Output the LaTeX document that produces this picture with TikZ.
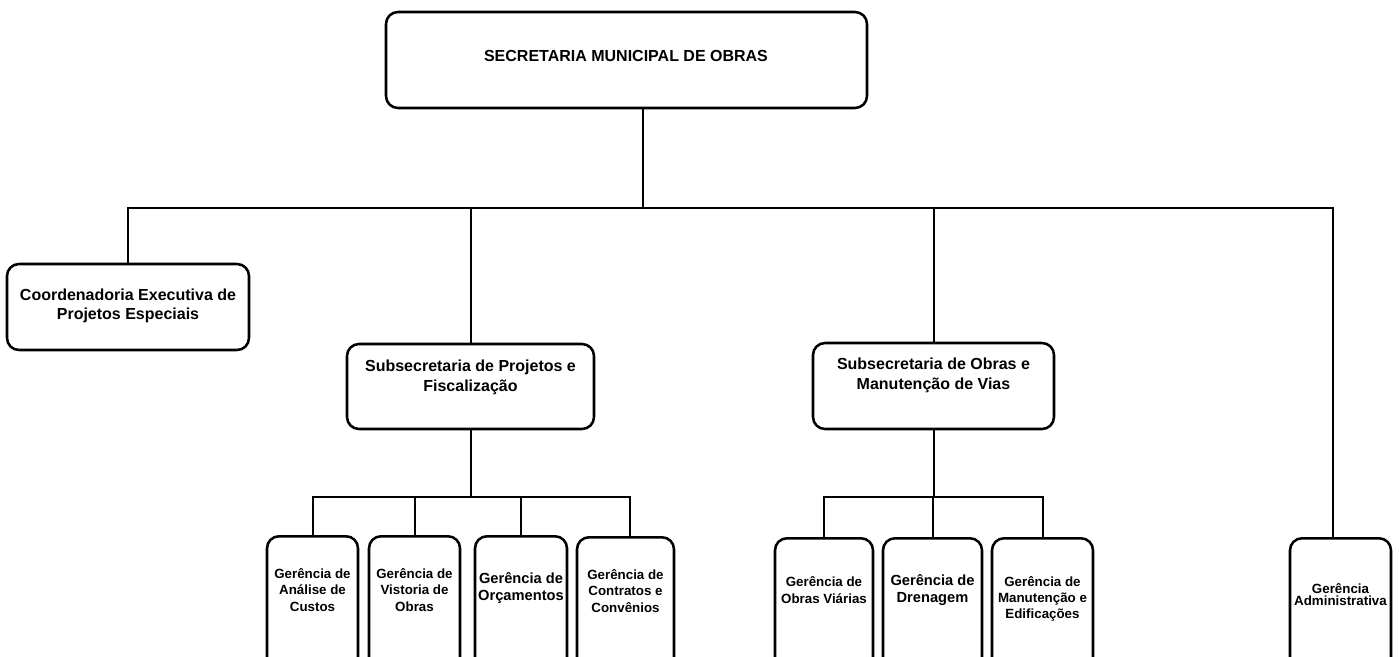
\documentclass[tikz,border=0pt]{standalone}
\usepackage{fontspec}
\setmainfont{Liberation Sans}
\usetikzlibrary{positioning}

\begin{document}
\begin{tikzpicture} [x=0.75pt, y=-0.75pt,
                    caixa/.style={draw, line width=1.9pt, rounded corners=9pt, inner sep=0pt},
                    gcaixa/.style={caixa, anchor=north, minimum height=120pt},
                    rot/.style={align=center, inner sep=0pt, font=\bfseries\fontsize{12}{15}\selectfont},
                    rotp/.style={align=center, inner sep=0pt, font=\bfseries\fontsize{10}{12.2}\selectfont},
                    rotm/.style={align=center, inner sep=0pt, font=\bfseries\fontsize{11}{12.8}\selectfont},
                    liga/.style={line width=1.5pt, line cap=rect}]

\useasboundingbox (0,0) rectangle (1400,657);
\clip (0,0) rectangle (1400,657);

% caixas
\node[caixa, minimum width=360.75pt, minimum height=72pt] (topo) at (626.5,60) {};
\node[caixa, minimum width=181.5pt, minimum height=64.5pt] (coord) at (128,307) {};
\node[caixa, minimum width=185.25pt, minimum height=63.75pt] (sp) at (470.5,386.5) {};
\node[caixa, minimum width=180.75pt, minimum height=64.5pt] (sm) at (933.5,386) {};

\node[gcaixa, minimum width=68.25pt] (g1) at (312.5,535) {};
\node[gcaixa, minimum width=68.25pt] (g2) at (414.5,535) {};
\node[gcaixa, minimum width=69pt] (g3) at (521,535) {};
\node[gcaixa, minimum width=72.75pt] (g4) at (625.5,536) {};
\node[gcaixa, minimum width=73.5pt] (g5) at (824,537) {};
\node[gcaixa, minimum width=74.25pt] (g6) at (932.5,537) {};
\node[gcaixa, minimum width=75.75pt] (g7) at (1042.5,537) {};
\node[gcaixa, minimum width=75.75pt] (g8) at (1340.5,537) {};

% textos
\node[rot] (topo-t) at (626,56) {SECRETARIA MUNICIPAL DE OBRAS};
\node[rot, font=\bfseries\fontsize{12}{14}\selectfont] (coord-t) at (128,306) {Coordenadoria Executiva de\\Projetos Especiais};
\node[rot] (sp-t) at (470.5,377) {Subsecretaria de Projetos e\\Fiscalização};
\node[rot] (sm-t) at (933.5,375) {Subsecretaria de Obras e\\Manutenção de Vias};

\node[rotp] (g1-t) at (312.5,590) {Gerência de\\Análise de\\Custos};
\node[rotp] (g2-t) at (414.5,590) {Gerência de\\Vistoria de\\Obras};
\node[rotm] (g3-t) at (521,588.5) {Gerência de\\Orçamentos};
\node[rotp] (g4-t) at (625.5,591) {Gerência de\\Contratos e\\Convênios};
\node[rotp] (g5-t) at (824,590) {Gerência de\\Obras Viárias};
\node[rotm] (g6-t) at (932.5,590) {Gerência de\\Drenagem};
\node[rotp] (g7-t) at (1042.5,599) {Gerência de\\Manutenção e\\Edificações};
\node[rotp, font=\bfseries\fontsize{10}{9}\selectfont] (g8-t) at (1340.5,595) {Gerência\\Administrativa};

% barras
\coordinate (b0) at (643,208);
\coordinate (b0d) at (1333,208);
\coordinate (b1) at (470,497);
\coordinate (b1d) at (630,497);
\coordinate (b2) at (933,497);

\draw[liga] (topo.south -| b0) -- (b0);
\draw[liga] (coord.north) -- (coord.north |- b0) -- (b0d) -- (b0d |- g8.north);
\foreach \c in {sp,sm}
    \draw[liga] (\c.north) -- (\c.north |- b0);

\draw[liga] (sp.south) -- (sp.south |- b1);
\draw[liga] (g1.north) -- (g1.north |- b1) -- (b1d) -- (b1d |- g4.north);
\foreach \g in {g2,g3}
    \draw[liga] (\g.north) -- (\g.north |- b1);

\draw[liga] (sm.south) -- (sm.south |- b2);
\draw[liga] (g5.north) -- (g5.north |- b2) -- (g7.north |- b2) -- (g7.north);
\draw[liga] (g6.north) -- (g6.north |- b2);
\end{tikzpicture}
\end{document}
